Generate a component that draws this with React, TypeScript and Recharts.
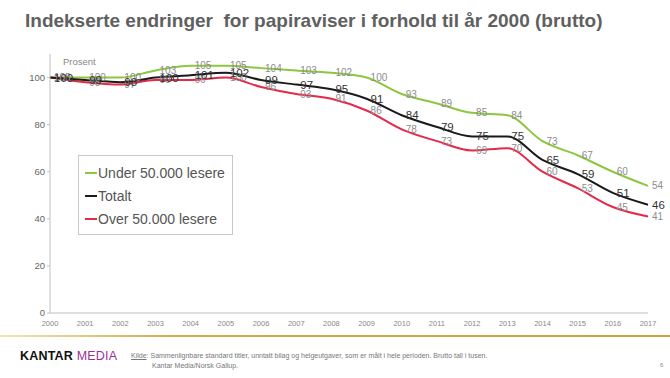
import { LineChart, Line, XAxis, YAxis, LabelList } from "recharts";

const years = ["2000", "2001", "2002", "2003", "2004", "2005", "2006", "2007", "2008", "2009", "2010", "2011", "2012", "2013", "2014", "2015", "2016", "2017"];
const under50 = [100, 100, 100, 103, 105, 105, 104, 103, 102, 100, 93, 89, 85, 84, 73, 67, 60, 54];
const totalt = [100, 99, 98, 100, 101, 102, 99, 97, 95, 91, 84, 79, 75, 75, 65, 59, 51, 46];
const over50 = [100, 98, 97, 99, 99, 100, 96, 93, 91, 86, 78, 73, 69, 70, 60, 53, 45, 41];
const yTicks = [0, 20, 40, 60, 80, 100];

const data = years.map((y, i) => ({ year: y, under: under50[i], total: totalt[i], over: over50[i] }));

const GREEN = "#8DC63F";
const BLACK = "#1a1a1a";
const RED = "#E4294A";
const FONT = "'Liberation Sans', Arial, sans-serif";

const makeLabel = (size: number, color: string) => (props: any) => {
  const { x, y, value } = props;
  return (
    <text x={x + 4} y={y} dy="0.35em" fontSize={size} fill={color} fontFamily={FONT} textAnchor="start">
      {value}
    </text>
  );
};

const legendItems = [
  { name: "Under 50.000 lesere", color: GREEN },
  { name: "Totalt", color: BLACK },
  { name: "Over 50.000 lesere", color: RED },
];

function LegendBox() {
  return (
    <div style={{ position: "absolute", left: 78, top: 155, border: "1px solid #c8c8c8", width: 155, height: 80, boxSizing: "border-box", padding: "5px 0 0 6px", background: "#fff", fontFamily: FONT }}>
      {legendItems.map((it) => (
        <div key={it.name} style={{ display: "flex", alignItems: "center", height: 23, fontSize: 14, color: "#555" }}>
          <span style={{ display: "inline-block", width: 12, height: 2, background: it.color, marginRight: 1 }} />
          {it.name}
        </div>
      ))}
    </div>
  );
}

export default function App() {
  return (
    <div style={{ position: "absolute", left: 0, top: 0, width: 670, height: 378, background: "#fff", fontFamily: FONT, overflow: "hidden" }}>
      <div style={{ position: "absolute", left: 25, top: 10, fontSize: 19, fontWeight: "bold", color: "#606060", whiteSpace: "pre" }}>
        {"Indekserte endringer  for papiraviser i forhold til år 2000 (brutto)"}
      </div>
      <div style={{ position: "absolute", left: 63, top: 56, fontSize: 9.5, color: "#888" }}>Prosent</div>
      <div style={{ position: "absolute", left: 0, top: 0 }}>
        <LineChart width={670} height={378} data={data} margin={{ top: 54, right: 22, left: 0, bottom: 45 }}>
          <XAxis
            dataKey="year"
            axisLine={{ stroke: "#c0c0c0" }}
            tickLine={false}
            tick={{ fontSize: 7.5, fill: "#888", fontFamily: FONT }}
            height={20}
            interval={0}
            tickMargin={2}
          />
          <YAxis
            domain={[0, 110]}
            ticks={yTicks}
            width={50}
            axisLine={{ stroke: "#c0c0c0" }}
            tickLine={{ stroke: "#c0c0c0" }}
            tickSize={3}
            tick={{ fontSize: 9.5, fill: "#666", fontFamily: FONT }}
          />
          <Line type="monotone" dataKey="under" name="Under 50.000 lesere" stroke={GREEN} strokeWidth={2} dot={false} isAnimationActive={false}>
            <LabelList dataKey="under" content={makeLabel(10, "#8c8c8c")} />
          </Line>
          <Line type="monotone" dataKey="over" name="Over 50.000 lesere" stroke={RED} strokeWidth={2} dot={false} isAnimationActive={false}>
            <LabelList dataKey="over" content={makeLabel(10, "#8c8c8c")} />
          </Line>
          <Line type="monotone" dataKey="total" name="Totalt" stroke={BLACK} strokeWidth={2} dot={false} isAnimationActive={false}>
            <LabelList dataKey="total" content={makeLabel(11.5, "#333")} />
          </Line>
        </LineChart>
      </div>
      <LegendBox />
      <div style={{ position: "absolute", left: 0, top: 335, width: 670, height: 2, background: "linear-gradient(to right, #f3e6b0, #d1ad4e 25%, #c9a040)" }} />
      <div style={{ position: "absolute", left: 20, top: 349, fontSize: 12.5, fontWeight: "bold", letterSpacing: 0.2 }}>
        <span style={{ color: "#111" }}>KANTAR </span>
        <span style={{ color: "#9c2f9c", fontWeight: "normal" }}>MEDIA</span>
      </div>
      <div style={{ position: "absolute", left: 131, top: 351, fontSize: 7, color: "#777", lineHeight: "10px" }}>
        <div>
          <span style={{ textDecoration: "underline" }}>Kilde</span>
          {":  Sammenlignbare  standard titler, unntatt bilag og helgeutgaver,  som er målt i hele perioden. Brutto tall i tusen."}
        </div>
        <div style={{ paddingLeft: 21 }}>Kantar Media/Norsk Gallup.</div>
      </div>
      <div style={{ position: "absolute", left: 660, top: 362, fontSize: 6, color: "#888" }}>6</div>
    </div>
  );
}
